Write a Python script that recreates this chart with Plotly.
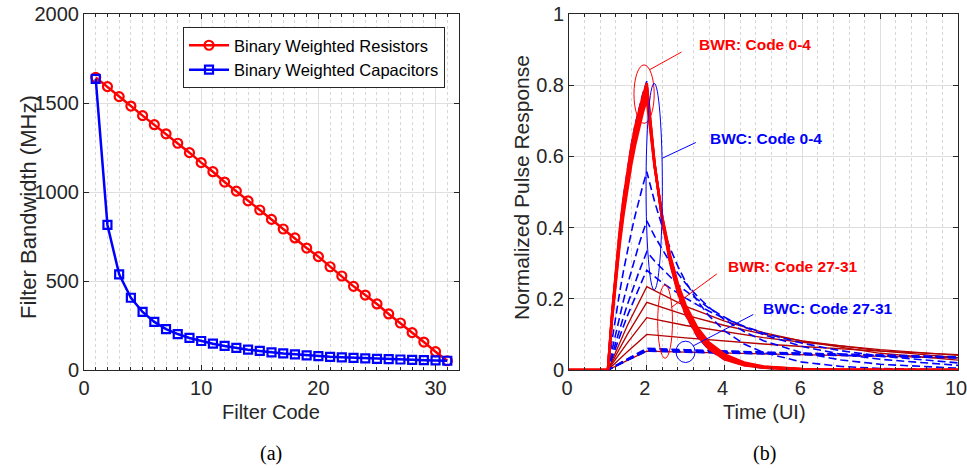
import plotly.graph_objects as go

# ---------------- (a) Filter bandwidth vs filter code ----------------
filter_codes = list(range(1, 32))
bw_resistors = [1644, 1592, 1536, 1483, 1429, 1378, 1327, 1274, 1221, 1165,
                1114, 1056, 1005, 950, 899, 846, 792, 742, 685, 637,
                580, 528, 470, 421, 371, 315, 264, 210, 157, 103, 52]
bw_capacitors = [1635, 815, 537, 406, 326, 270, 230, 202, 180, 163,
                 148, 135, 124, 114, 107, 99, 93, 88, 82, 78,
                 74, 71, 68, 65, 63, 61, 59, 57, 55, 54, 52]

# ---------------- (b) Normalized pulse responses ----------------
t_fast = [0, 1, 1.1, 1.2, 1.3, 1.4, 1.5, 1.6, 1.7, 1.8, 1.9, 2.0,
          2.2, 2.4, 2.6, 2.8, 3.0, 3.3, 3.6, 4.0, 4.5, 5.0, 6.0, 7.0, 8.0, 10.0]
t_slow = [0, 1, 1.5, 2, 3, 4, 5, 6, 8, 10]

bwr_code0 = [0, 0, 0.151, 0.280, 0.389, 0.481, 0.560, 0.626, 0.683, 0.731, 0.771, 0.806,
             0.581, 0.418, 0.301, 0.217, 0.156, 0.096, 0.059, 0.030, 0.013, 0.006, 0.001, 0, 0, 0]
bwr_code1 = [0, 0, 0.147, 0.272, 0.379, 0.470, 0.548, 0.614, 0.671, 0.719, 0.760, 0.795,
             0.579, 0.421, 0.307, 0.223, 0.163, 0.101, 0.063, 0.033, 0.015, 0.007, 0.001, 0, 0, 0]
bwr_code2 = [0, 0, 0.143, 0.265, 0.370, 0.460, 0.537, 0.603, 0.659, 0.708, 0.750, 0.785,
             0.577, 0.424, 0.312, 0.229, 0.169, 0.106, 0.067, 0.036, 0.017, 0.008, 0.002, 0, 0, 0]
bwr_code3 = [0, 0, 0.138, 0.256, 0.359, 0.447, 0.523, 0.589, 0.645, 0.694, 0.736, 0.773,
             0.575, 0.427, 0.318, 0.237, 0.176, 0.113, 0.072, 0.040, 0.019, 0.009, 0.002, 0.001, 0, 0]
bwr_code4 = [0, 0, 0.133, 0.249, 0.349, 0.435, 0.510, 0.576, 0.632, 0.681, 0.724, 0.760,
             0.571, 0.429, 0.322, 0.242, 0.182, 0.119, 0.077, 0.044, 0.021, 0.010, 0.003, 0.001, 0, 0]

bwc_code0 = [0, 0, 0.154, 0.284, 0.394, 0.487, 0.565, 0.632, 0.689, 0.736, 0.777, 0.811,
             0.581, 0.416, 0.298, 0.214, 0.153, 0.093, 0.056, 0.029, 0.013, 0.005, 0.001, 0, 0, 0]
bwc_code1 = [0, 0, 0.078, 0.150, 0.217, 0.278, 0.334, 0.386, 0.434, 0.478, 0.519, 0.557,
             0.473, 0.402, 0.342, 0.291, 0.247, 0.194, 0.152, 0.110, 0.073, 0.049, 0.022, 0.010, 0.004, 0.001]
bwc_code2 = [0, 0, 0.053, 0.103, 0.150, 0.195, 0.238, 0.278, 0.316, 0.353, 0.387, 0.419,
             0.376, 0.337, 0.302, 0.271, 0.243, 0.207, 0.176, 0.141, 0.108, 0.082, 0.048, 0.028, 0.016, 0.005]
bwc_code3 = [0, 0, 0.040, 0.078, 0.114, 0.149, 0.183, 0.215, 0.246, 0.276, 0.304, 0.332,
             0.306, 0.283, 0.261, 0.240, 0.222, 0.197, 0.174, 0.148, 0.121, 0.099, 0.066, 0.044, 0.030, 0.013]
bwc_code4 = [0, 0, 0.032, 0.064, 0.094, 0.123, 0.152, 0.179, 0.206, 0.231, 0.256, 0.280,
             0.262, 0.245, 0.230, 0.215, 0.202, 0.183, 0.165, 0.145, 0.123, 0.104, 0.075, 0.054, 0.039, 0.020]

bwr_code27 = [0, 0, 0.125, 0.234, 0.179, 0.137, 0.105, 0.081, 0.047, 0.028]
bwr_code28 = [0, 0, 0.100, 0.190, 0.154, 0.125, 0.101, 0.082, 0.054, 0.035]
bwr_code29 = [0, 0, 0.076, 0.147, 0.125, 0.107, 0.091, 0.078, 0.057, 0.041]
bwr_code30 = [0, 0, 0.051, 0.100, 0.090, 0.081, 0.073, 0.066, 0.053, 0.043]
bwr_code31 = [0, 0, 0.027, 0.053, 0.050, 0.048, 0.045, 0.043, 0.038, 0.034]

bwc_code27 = [0, 0, 0.031, 0.061, 0.057, 0.053, 0.050, 0.047, 0.042, 0.037]
bwc_code28 = [0, 0, 0.030, 0.059, 0.055, 0.052, 0.049, 0.046, 0.041, 0.036]
bwc_code29 = [0, 0, 0.029, 0.057, 0.053, 0.050, 0.047, 0.045, 0.040, 0.035]
bwc_code30 = [0, 0, 0.028, 0.055, 0.052, 0.049, 0.046, 0.044, 0.039, 0.035]
bwc_code31 = [0, 0, 0.027, 0.053, 0.050, 0.048, 0.045, 0.043, 0.038, 0.034]

W, H = 967, 468
FONT = "Liberation Sans, Arial, sans-serif"
SERIF = "Liberation Serif, Times New Roman, serif"
TXT = "#262626"
RED = "#FF0000"
BLUE = "#0000FF"
DARKRED = "#B40000"

fig = go.Figure()

# ---- left panel traces
fig.add_trace(go.Scatter(
    x=filter_codes, y=bw_resistors, mode="lines+markers",
    name="Binary Weighted Resistors",
    line=dict(color=RED, width=2.5),
    marker=dict(symbol="circle-open", size=9, color=RED, line=dict(width=2.2, color=RED)),
    xaxis="x", yaxis="y"))
fig.add_trace(go.Scatter(
    x=filter_codes, y=bw_capacitors, mode="lines+markers",
    name="Binary Weighted Capacitors",
    line=dict(color=BLUE, width=2.5),
    marker=dict(symbol="square-open", size=8, color=BLUE, line=dict(width=2.2, color=BLUE)),
    xaxis="x", yaxis="y"))

# ---- right panel traces
for ys in [bwr_code27, bwr_code28, bwr_code29, bwr_code30, bwr_code31]:
    fig.add_trace(go.Scatter(x=t_slow, y=ys, mode="lines", showlegend=False,
                             line=dict(color=DARKRED, width=1.3),
                             xaxis="x2", yaxis="y2", hoverinfo="skip"))
for ys in [bwc_code27, bwc_code28, bwc_code29, bwc_code30, bwc_code31]:
    fig.add_trace(go.Scatter(x=t_slow, y=ys, mode="lines", showlegend=False,
                             line=dict(color=BLUE, width=1.6, dash="8px,4px"),
                             xaxis="x2", yaxis="y2", hoverinfo="skip"))
for ys in [bwc_code0, bwc_code1, bwc_code2, bwc_code3, bwc_code4]:
    fig.add_trace(go.Scatter(x=t_fast, y=ys, mode="lines", showlegend=False,
                             line=dict(color=BLUE, width=1.6, dash="8px,4px"),
                             xaxis="x2", yaxis="y2", hoverinfo="skip"))
for ys in [bwr_code0, bwr_code1, bwr_code2, bwr_code3, bwr_code4]:
    fig.add_trace(go.Scatter(x=t_fast, y=ys, mode="lines", showlegend=False,
                             line=dict(color=RED, width=2.5),
                             xaxis="x2", yaxis="y2", hoverinfo="skip"))

def px_x(p):
    return p / W

def px_y(p):
    return 1 - p / H

axis_common = dict(
    showline=True, linecolor=TXT, linewidth=1, mirror="allticks",
    ticks="inside", ticklen=5, tickcolor=TXT,
    showgrid=True, gridcolor="#DEDEDE", gridwidth=1,
    zeroline=False, automargin=False, ticklabeloverflow="allow",
    tickfont=dict(family=FONT, size=20, color=TXT),
)
minor_common = dict(ticks="inside", ticklen=3, tickcolor=TXT,
                    showgrid=True, gridcolor="#D6D6D6", griddash="dot", gridwidth=1)

fig.update_layout(
    width=W, height=H,
    margin=dict(l=0, r=0, t=0, b=0, pad=0),
    paper_bgcolor="white", plot_bgcolor="white",
    font=dict(family=FONT, color=TXT),
    xaxis=dict(domain=[px_x(84), px_x(459)], range=[0, 32], tickvals=[0, 10, 20, 30],
               anchor="y", minor=dict(dtick=1, tick0=0, **minor_common), **axis_common),
    yaxis=dict(domain=[px_y(370), px_y(14)], range=[0, 2000],
               tickvals=[0, 500, 1000, 1500, 2000], anchor="x", **axis_common),
    xaxis2=dict(domain=[px_x(569), px_x(958)], range=[0, 10],
                tickvals=[0, 2, 4, 6, 8, 10], anchor="y2", ticklabelshift=-2,
                minor=dict(dtick=0.4, tick0=0, **minor_common), **axis_common),
    yaxis2=dict(domain=[px_y(370), px_y(14)], range=[0, 1],
                tickvals=[0, 0.2, 0.4, 0.6, 0.8, 1], ticktext=["0", "0.2", "0.4", "0.6", "0.8", "1"],
                anchor="x2", **axis_common),
    legend=dict(x=px_x(445), y=px_y(27), xanchor="right", yanchor="top",
                bgcolor="white", bordercolor=TXT, borderwidth=1,
                font=dict(family=FONT, size=16.5, color="black"),
                tracegroupgap=0, itemwidth=40),
    showlegend=True,
)

def label(text, x, y, size, family=FONT, angle=0, color=TXT):
    return dict(text=text, x=px_x(x), y=px_y(y), xref="paper", yref="paper",
                xanchor="center", yanchor="middle", textangle=angle,
                showarrow=False, font=dict(family=family, size=size, color=color))

ann = [
    label("Filter Bandwidth (MHz)", 28, 207, 22, angle=-90),
    label("Normalized Pulse Response", 521, 188, 21, angle=-90),
    label("Filter Code", 271, 412, 20),
    label("Time (UI)", 764, 412, 20),
    label("(a)", 271, 453, 20, family=SERIF, color="black"),
    label("(b)", 764, 453, 20, family=SERIF, color="black"),
]
bold = lambda c: dict(family=FONT, size=15.5, color=c)
ann.append(dict(text="<b>BWR: Code 0-4</b>", x=3.3, y=0.913, xref="x2", yref="y2",
                xanchor="left", yanchor="middle", showarrow=False, font=bold(RED)))
ann.append(dict(text="<b>BWC: Code 0-4</b>", x=3.57, y=0.651, xref="x2", yref="y2",
                xanchor="left", yanchor="middle", showarrow=False, font=bold(BLUE)))
ann.append(dict(text="<b>BWR: Code 27-31</b>", x=4.03, y=0.292, xref="x2", yref="y2",
                xanchor="left", yanchor="middle", showarrow=False, font=bold(RED)))
ann.append(dict(text="<b>BWC: Code 27-31</b>", x=4.93, y=0.173, xref="x2", yref="y2",
                xanchor="left", yanchor="middle", showarrow=False, font=bold(BLUE)))
fig.update_layout(annotations=ann)

shapes = [
    # BWR code 0-4 ellipse + leader
    dict(type="circle", xref="x2", yref="y2", x0=1.67, x1=2.19, y0=0.693, y1=0.857,
         line=dict(color=RED, width=1)),
    dict(type="line", xref="x2", yref="y2", x0=2.065, y0=0.843, x1=2.89, y1=0.893,
         line=dict(color=RED, width=1)),
    # BWC code 0-4 ellipse + leader
    dict(type="circle", xref="x2", yref="y2", x0=1.98, x1=2.40, y0=0.225, y1=0.805,
         line=dict(color=BLUE, width=1)),
    dict(type="line", xref="x2", yref="y2", x0=2.40, y0=0.595, x1=3.26, y1=0.639,
         line=dict(color=BLUE, width=1)),
    # BWR code 27-31 ellipse + leader
    dict(type="circle", xref="x2", yref="y2", x0=2.28, x1=2.66, y0=0.033, y1=0.239,
         line=dict(color=RED, width=1)),
    dict(type="line", xref="x2", yref="y2", x0=2.62, y0=0.175, x1=3.8, y1=0.27,
         line=dict(color=RED, width=1)),
    # BWC code 27-31 circle + leader
    dict(type="circle", xref="x2", yref="y2", x0=2.75, x1=3.24, y0=0.021, y1=0.081,
         line=dict(color=BLUE, width=1)),
    dict(type="line", xref="x2", yref="y2", x0=3.2, y0=0.068, x1=4.74, y1=0.156,
         line=dict(color=BLUE, width=1)),
]
fig.update_layout(shapes=shapes)

# remove the default page margin so the figure fills the browser window exactly
fig.write_html("out.html", config={"displayModeBar": False},
               post_script="document.body.style.margin='0px';")
